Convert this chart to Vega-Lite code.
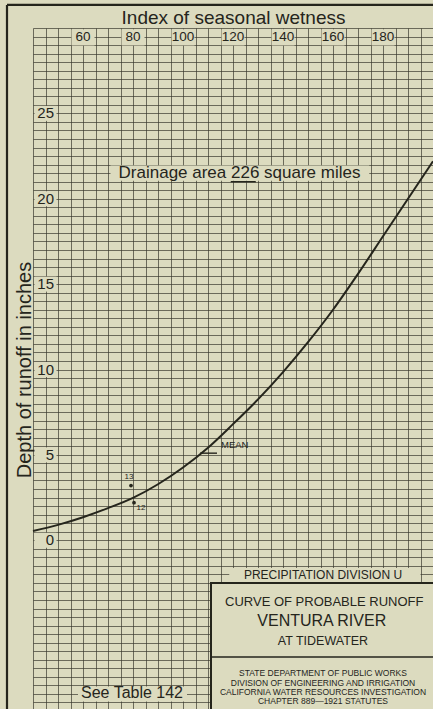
{
  "$schema": "https://vega.github.io/schema/vega-lite/v6.json",
  "width": 400,
  "height": 683,
  "autosize": {"type": "none"},
  "padding": {"left": 33, "top": 28, "right": 0, "bottom": 0},
  "background": "#dcdbbf",
  "config": {"view": {"stroke": null}, "font": "Liberation Sans", "text": {"color": "#25251c"}},
  "datasets": {
    "curve": [
      {"x": 40, "y": 0.54}, {"x": 50, "y": 0.9}, {"x": 60, "y": 1.35}, {"x": 70, "y": 1.88},
      {"x": 80, "y": 2.48}, {"x": 90, "y": 3.28}, {"x": 100, "y": 4.26}, {"x": 110, "y": 5.42},
      {"x": 120, "y": 6.8}, {"x": 130, "y": 8.25}, {"x": 140, "y": 9.85}, {"x": 150, "y": 11.6},
      {"x": 160, "y": 13.5}, {"x": 170, "y": 15.6}, {"x": 180, "y": 17.8}, {"x": 190, "y": 20.0},
      {"x": 200, "y": 22.2}
    ],
    "points": [{"x": 79.2, "y": 3.2, "label": "13"}, {"x": 80.4, "y": 2.2, "label": "12"}],
    "pointLabels": [{"x": 78.4, "y": 3.7, "label": "13"}, {"x": 83.2, "y": 1.9, "label": "12"}],
    "xlabels": [
      {"x": 60, "y": 29.45, "label": "60"}, {"x": 80, "y": 29.45, "label": "80"},
      {"x": 100, "y": 29.45, "label": "100"}, {"x": 120, "y": 29.45, "label": "120"},
      {"x": 140, "y": 29.45, "label": "140"}, {"x": 160, "y": 29.45, "label": "160"},
      {"x": 180, "y": 29.45, "label": "180"}
    ],
    "ylabels": [
      {"x": 45, "y": 0, "label": "0"}, {"x": 45, "y": 5, "label": "5"},
      {"x": 45, "y": 10, "label": "10"}, {"x": 45, "y": 15, "label": "15"},
      {"x": 45, "y": 20, "label": "20"}, {"x": 45, "y": 25, "label": "25"}
    ],
    "frame": [
      {"x": 29.6, "x2": 29.6, "y": 31.35, "y2": -10.6},
      {"x": 29.6, "x2": 201, "y": 31.35, "y2": 31.35}
    ],
    "rules": [
      {"x": 111.2, "x2": 201, "y": -6.84, "y2": -6.84},
      {"x": 106.8, "x2": 113.6, "y": 5.1, "y2": 5.1},
      {"x": 119.1, "x2": 129.1, "y": 21.0, "y2": 21.0}
    ],
    "titleBox": [{"x": 111.2, "x2": 201, "y": -2.5, "y2": -10.6}],
    "masks": [
      {"x": 118.5, "x2": 195, "y": -1.62, "y2": -2.45},
      {"x": 71, "x2": 174.5, "y": 21.06, "y2": 21.94},
      {"x": 58, "x2": 101.6, "y": -8.56, "y2": -9.44}
    ],
    "notes": [
      {"x": 122.6, "y": 21.5, "label": "Drainage area 226 square miles"}
    ],
    "smallLines": [
      {"x": 156, "y": -7.78, "label": "STATE DEPARTMENT OF PUBLIC WORKS"},
      {"x": 156, "y": -8.34, "label": "DIVISION OF ENGINEERING AND IRRIGATION"},
      {"x": 156, "y": -8.9, "label": "CALIFORNIA WATER RESOURCES INVESTIGATION"},
      {"x": 156, "y": -9.44, "label": "CHAPTER 889—1921 STATUTES"}
    ]
  },
  "encoding": {
    "x": {
      "field": "x", "type": "quantitative",
      "scale": {"domain": [40, 200], "nice": false, "zero": false},
      "axis": {
        "orient": "top", "title": "Index of seasonal wetness",
        "values": [40,45,50,55,60,65,70,75,80,85,90,95,100,105,110,115,120,125,130,135,140,145,150,155,160,165,170,175,180,185,190,195,200],
        "labels": false, "ticks": false, "domain": false,
        "grid": true, "gridColor": "#3a3a2e", "gridWidth": 0.7, "gridOpacity": 1,
        "titleFontSize": 19, "titleFontWeight": "normal", "titleColor": "#25251c",
        "titleFont": "Liberation Sans", "titlePadding": 1
      }
    },
    "y": {
      "field": "y", "type": "quantitative",
      "scale": {"domain": [-10, 30], "nice": false, "zero": false},
      "axis": {
        "title": "Depth of runoff in inches",
        "values": [-10,-9.5,-9,-8.5,-8,-7.5,-7,-6.5,-6,-5.5,-5,-4.5,-4,-3.5,-3,-2.5,-2,-1.5,-1,-0.5,0,0.5,1,1.5,2,2.5,3,3.5,4,4.5,5,5.5,6,6.5,7,7.5,8,8.5,9,9.5,10,10.5,11,11.5,12,12.5,13,13.5,14,14.5,15,15.5,16,16.5,17,17.5,18,18.5,19,19.5,20,20.5,21,21.5,22,22.5,23,23.5,24,24.5,25,25.5,26,26.5,27,27.5,28,28.5,29,29.5,30],
        "labels": false, "ticks": false, "domain": false,
        "grid": true, "gridColor": "#3a3a2e", "gridWidth": 0.7, "gridOpacity": 1,
        "titleFontSize": 20, "titleFontWeight": "normal", "titleColor": "#25251c",
        "titleFont": "Liberation Sans", "titlePadding": -1
      }
    }
  },
  "layer": [
    {
      "data": {"name": "titleBox"},
      "mark": {"type": "rect", "fill": "#dcdbbf", "stroke": "#25251c", "strokeWidth": 2},
      "encoding": {"x2": {"field": "x2"}, "y2": {"field": "y2"}}
    },
    {
      "data": {"name": "masks"},
      "mark": {"type": "rect", "fill": "#dcdbbf"},
      "encoding": {"x2": {"field": "x2"}, "y2": {"field": "y2"}}
    },
    {
      "data": {"name": "ylabels"},
      "mark": {"type": "point", "filled": true, "fill": "#dcdbbf", "strokeWidth": 0, "opacity": 1, "shape": "M-1,-0.68H1V0.68H-1Z", "size": 484}
    },
    {
      "data": {"name": "xlabels"},
      "mark": {"type": "point", "filled": true, "fill": "#dcdbbf", "strokeWidth": 0, "opacity": 1, "shape": "M-1,-0.7H1V0.7H-1Z", "size": 529}
    },
    {
      "data": {"name": "rules"},
      "mark": {"type": "rule", "stroke": "#25251c", "strokeWidth": 1.4},
      "encoding": {"x2": {"field": "x2"}, "y2": {"field": "y2"}}
    },
    {
      "data": {"name": "frame"},
      "mark": {"type": "rule", "stroke": "#25251c", "strokeWidth": 2.2},
      "encoding": {"x2": {"field": "x2"}, "y2": {"field": "y2"}}
    },
    {
      "data": {"name": "curve"},
      "mark": {"type": "line", "interpolate": "monotone", "stroke": "#25251c", "strokeWidth": 2}
    },
    {
      "data": {"values": [{"x": 115.2, "y": 5.55, "label": "MEAN"}]},
      "mark": {"type": "text", "align": "left", "baseline": "middle", "fontSize": 9.5},
      "encoding": {"text": {"field": "label"}}
    },
    {
      "data": {"name": "points"},
      "mark": {"type": "circle", "size": 14, "color": "#25251c", "opacity": 1}
    },
    {
      "data": {"name": "pointLabels"},
      "mark": {"type": "text", "align": "center", "baseline": "middle", "fontSize": 8},
      "encoding": {"text": {"field": "label"}}
    },
    {
      "data": {"name": "xlabels"},
      "mark": {"type": "text", "align": "center", "baseline": "middle", "fontSize": 13.5, "font": "Liberation Sans"},
      "encoding": {"text": {"field": "label"}}
    },
    {
      "data": {"name": "ylabels"},
      "mark": {"type": "text", "align": "right", "baseline": "middle", "fontSize": 15, "dx": 8.5},
      "encoding": {"text": {"field": "label"}}
    },
    {
      "data": {"name": "notes"},
      "mark": {"type": "text", "align": "center", "baseline": "middle", "fontSize": 17},
      "encoding": {"text": {"field": "label"}}
    },
    {
      "data": {"values": [{"x": 79.6, "y": -8.96, "label": "See Table 142"}]},
      "mark": {"type": "text", "align": "center", "baseline": "middle", "fontSize": 16},
      "encoding": {"text": {"field": "label"}}
    },
    {
      "data": {"values": [{"x": 156, "y": -2.05, "label": "PRECIPITATION  DIVISION  U"}]},
      "mark": {"type": "text", "align": "center", "baseline": "middle", "fontSize": 12},
      "encoding": {"text": {"field": "label"}}
    },
    {
      "data": {"values": [{"x": 156.5, "y": -3.6, "label": "CURVE OF PROBABLE RUNOFF"}]},
      "mark": {"type": "text", "align": "center", "baseline": "middle", "fontSize": 13},
      "encoding": {"text": {"field": "label"}}
    },
    {
      "data": {"values": [{"x": 155.5, "y": -4.74, "label": "VENTURA RIVER"}]},
      "mark": {"type": "text", "align": "center", "baseline": "middle", "fontSize": 16},
      "encoding": {"text": {"field": "label"}}
    },
    {
      "data": {"values": [{"x": 156, "y": -5.9, "label": "AT TIDEWATER"}]},
      "mark": {"type": "text", "align": "center", "baseline": "middle", "fontSize": 12.5},
      "encoding": {"text": {"field": "label"}}
    },
    {
      "data": {"name": "smallLines"},
      "mark": {"type": "text", "align": "center", "baseline": "middle", "fontSize": 8.5},
      "encoding": {"text": {"field": "label"}}
    }
  ]
}
